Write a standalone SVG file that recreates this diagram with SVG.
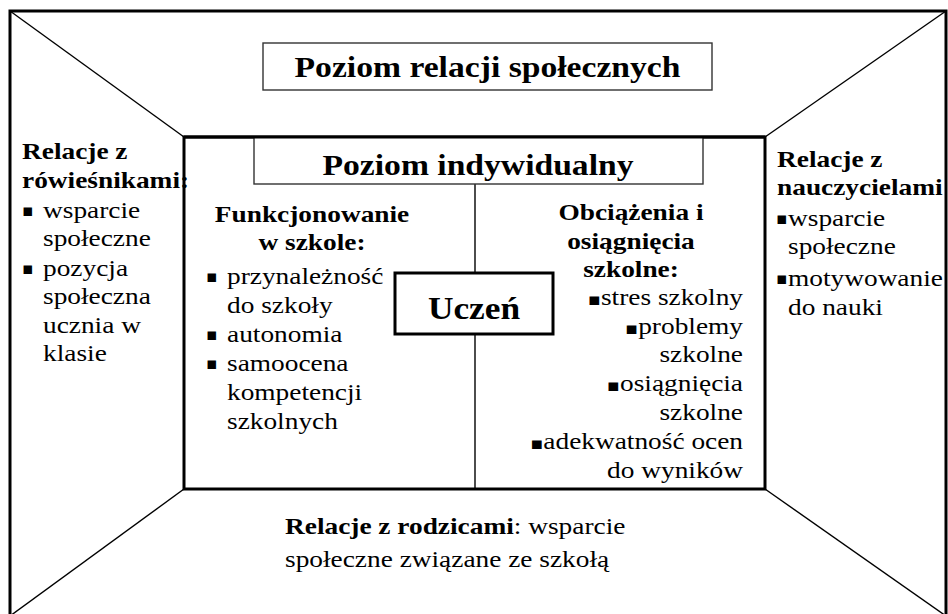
<svg xmlns="http://www.w3.org/2000/svg" width="948" height="614" viewBox="0 0 948 614">
<style>
text{font-family:'Liberation Serif','Times New Roman',serif;fill:#000}
.b{font-weight:bold;font-size:24px}
.r{font-size:24px}
.h{font-weight:bold;font-size:29.5px}
.u{font-weight:bold;font-size:31px}
.bul{font-family:'DejaVu Sans',sans-serif;font-size:17px}
.thick{fill:none;stroke:#000;stroke-width:3}
.thin{fill:none;stroke:#000;stroke-width:1.4}
.box{fill:#fff;stroke:#333;stroke-width:1.4}
</style>
<rect width="948" height="614" fill="#fff"/>
<g id="connectors">
<line class="thin" x1="10" y1="11" x2="184" y2="137"/>
<line class="thin" x1="946" y1="11" x2="765" y2="137"/>
<line class="thin" x1="184" y1="489" x2="10" y2="616"/>
<line class="thin" x1="765" y1="489" x2="946" y2="616"/>
<line class="thin" x1="475" y1="184" x2="475" y2="489"/>
</g>
<g id="frame">
<rect class="thick" x="10" y="11" width="936" height="605"/>
<rect class="thick" x="184" y="137" width="581" height="352"/>
</g>
<g id="poziom-relacji">
<rect class="box" x="263" y="43" width="449" height="47"/>
<g transform="translate(487.5,0) scale(1.14,1)"><text class="h" x="0" y="77" text-anchor="middle">Poziom relacji społecznych</text></g>
</g>
<g id="poziom-indywidualny">
<rect class="box" x="254" y="137" width="449" height="47"/>
<line class="thick" x1="184" y1="137" x2="765" y2="137"/>
<g transform="translate(478,0) scale(1.14,1)"><text class="h" x="0" y="175" text-anchor="middle">Poziom indywidualny</text></g>
</g>
<g id="uczen">
<rect x="395" y="273" width="158" height="61" fill="#fff" stroke="#000" stroke-width="3"/>
<g transform="translate(474,0) scale(1.14,1)"><text class="u" x="0" y="319" text-anchor="middle">Uczeń</text></g>
</g>
<g id="rowiesnicy">
<g transform="translate(22,0) scale(1.14,1)">
<text class="b" x="0" y="159">Relacje z</text>
<text class="b" x="0" y="188">rówieśnikami:</text>
</g>
<text class="bul" x="22" y="216">▪</text>
<text class="bul" x="22" y="274">▪</text>
<g transform="translate(43,0) scale(1.14,1)">
<text class="r" x="0" y="218">wsparcie</text>
<text class="r" x="0" y="246">społeczne</text>
<text class="r" x="0" y="276">pozycja</text>
<text class="r" x="0" y="304">społeczna</text>
<text class="r" x="0" y="333">ucznia w</text>
<text class="r" x="0" y="361">klasie</text>
</g>
</g>
<g id="nauczyciele">
<g transform="translate(777,0) scale(1.14,1)">
<text class="b" x="0" y="167">Relacje z</text>
<text class="b" x="0" y="195">nauczycielami</text>
</g>
<text class="bul" x="776" y="224">▪</text>
<text class="bul" x="776" y="284">▪</text>
<g transform="translate(788,0) scale(1.14,1)">
<text class="r" x="0" y="226">wsparcie</text>
<text class="r" x="0" y="254">społeczne</text>
<text class="r" x="0" y="286">motywowanie</text>
<text class="r" x="0" y="315">do nauki</text>
</g>
</g>
<g id="funkcjonowanie">
<g transform="translate(312,0) scale(1.14,1)">
<text class="b" x="0" y="222" text-anchor="middle">Funkcjonowanie</text>
<text class="b" x="0" y="250" text-anchor="middle">w szkole:</text>
</g>
<text class="bul" x="206" y="282">▪</text>
<text class="bul" x="206" y="340">▪</text>
<text class="bul" x="206" y="369">▪</text>
<g transform="translate(227,0) scale(1.14,1)">
<text class="r" x="0" y="284">przynależność</text>
<text class="r" x="0" y="313">do szkoły</text>
<text class="r" x="0" y="342">autonomia</text>
<text class="r" x="0" y="371">samoocena</text>
<text class="r" x="0" y="400">kompetencji</text>
<text class="r" x="0" y="429">szkolnych</text>
</g>
</g>
<g id="obciazenia">
<g transform="translate(631,0) scale(1.14,1)">
<text class="b" x="0" y="220" text-anchor="middle">Obciążenia i</text>
<text class="b" x="0" y="249" text-anchor="middle">osiągnięcia</text>
<text class="b" x="0" y="277" text-anchor="middle">szkolne:</text>
</g>
<g transform="translate(743,0) scale(1.14,1)">
<text class="r" x="0" y="305" text-anchor="end"><tspan class="bul">▪</tspan>stres szkolny</text>
<text class="r" x="0" y="334" text-anchor="end"><tspan class="bul">▪</tspan>problemy</text>
<text class="r" x="0" y="362" text-anchor="end">szkolne</text>
<text class="r" x="0" y="391" text-anchor="end"><tspan class="bul">▪</tspan>osiągnięcia</text>
<text class="r" x="0" y="420" text-anchor="end">szkolne</text>
<text class="r" x="0" y="449" text-anchor="end"><tspan class="bul">▪</tspan>adekwatność ocen</text>
<text class="r" x="0" y="478" text-anchor="end">do wyników</text>
</g>
</g>
<g id="rodzice">
<g transform="translate(285,0) scale(1.14,1)">
<text class="r" x="0" y="534"><tspan font-weight="bold">Relacje z rodzicami</tspan>: wsparcie</text>
<text class="r" x="0" y="567">społeczne związane ze szkołą</text>
</g>
</g>
</svg>
